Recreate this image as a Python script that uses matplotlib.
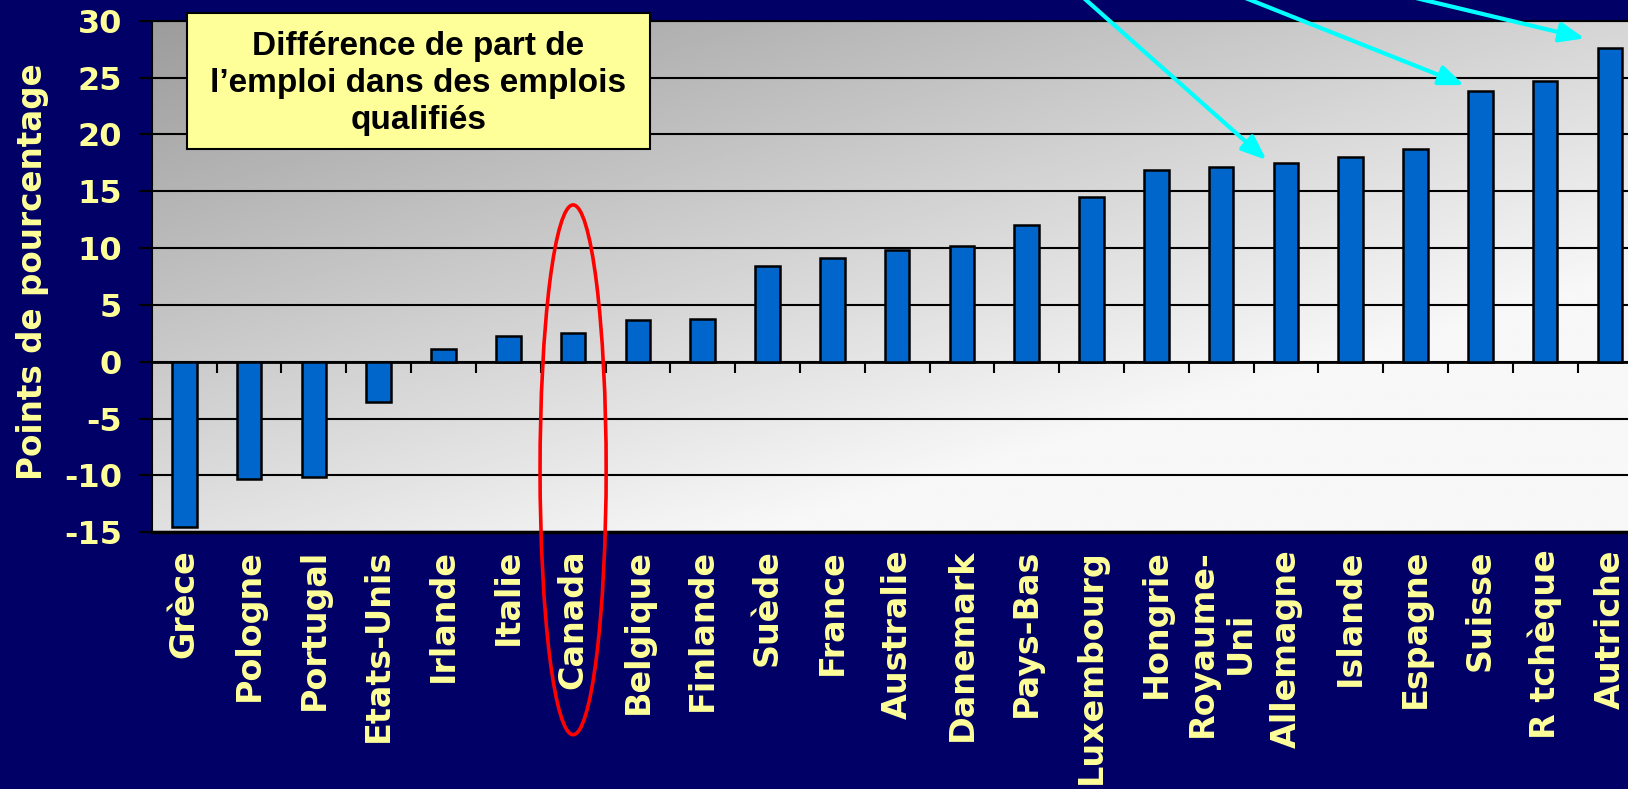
import numpy as np
import matplotlib
matplotlib.use('Agg')
from matplotlib import pyplot as plt
from matplotlib.patches import Ellipse, Rectangle

# data
pays = ['Grèce', 'Pologne', 'Portugal', 'Etats-Unis', 'Irlande', 'Italie',
        'Canada', 'Belgique', 'Finlande', 'Suède', 'France', 'Australie',
        'Danemark', 'Pays-Bas', 'Luxembourg', 'Hongrie', 'Royaume-\nUni',
        'Allemagne', 'Islande', 'Espagne', 'Suisse', 'R tchèque', 'Autriche']
ecart = [-14.5, -10.3, -10.1, -3.5, 1.1, 2.3, 2.5, 3.7, 3.8, 8.4, 9.1, 9.8,
         10.2, 12.0, 14.5, 16.9, 17.1, 17.5, 18.0, 18.7, 23.8, 24.7, 27.6]
yticks = list(range(-15, 31, 5))
titre = 'Différence de part de\nl\u2019emploi dans des emplois\nqualifiés'
pays_entoure = 'Canada'
pays_fleches = ['Allemagne', 'Suisse', 'Autriche']

NAVY = '#000066'
JAUNE = '#FFFF99'

plt.rcParams['axes.unicode_minus'] = False
plt.rcParams['font.family'] = ['DejaVu Sans']

fig = plt.figure(figsize=(16.28, 7.89), dpi=100, facecolor=NAVY)
ax = fig.add_axes([0.0933, 0.3253, 0.9155, 0.6484])

x = np.arange(len(pays))
ax.set_xlim(-0.5, len(pays) - 0.5)
ax.set_ylim(-15, 30)

# fond en degrade gris
u = np.linspace(0, 1, 300)
t = np.linspace(0, 1, 200)
U, T = np.meshgrid(u, t)
g = np.clip(156 + 58 * U + 68 * T, 0, 248) / 255.0
ax.imshow(g, cmap='gray', vmin=0, vmax=1, extent=[0, 1, 0, 1],
          transform=ax.transAxes, aspect='auto', zorder=0, origin='upper')

ax.bar(x, ecart, width=0.38, color='#0066CC', edgecolor='black',
       linewidth=1.8, zorder=2)

ax.set_axisbelow(True)
ax.yaxis.grid(True, color='black', linewidth=1.5)
ax.set_yticks(yticks)
ax.set_yticklabels([str(v) for v in yticks])
ax.tick_params(axis='y', direction='out', length=9.5, width=1.5,
               color='black', labelcolor=JAUNE, labelsize=23, pad=12)
for lbl in ax.get_yticklabels():
    lbl.set_fontweight('bold')

ax.set_xticks(x)
ax.set_xticklabels(pays, rotation=90, fontsize=24, fontweight='bold',
                   color=JAUNE)
for lbl in ax.get_xticklabels():
    lbl.set_multialignment('center')
ax.tick_params(axis='x', length=0, pad=12)

for s in ['left', 'top', 'bottom']:
    ax.spines[s].set_color('black')
    ax.spines[s].set_linewidth(1.5)
ax.spines['bottom'].set_linewidth(2.5)
ax.spines['right'].set_visible(False)

# axe des categories sur la ligne zero
sec = ax.secondary_xaxis(15 / 45)
sec.set_xticks(x[:-1] + 0.5)
sec.tick_params(direction='out', length=7.7, width=1.5, color='black',
                labelbottom=False)
sec.spines['bottom'].set_color('black')
sec.spines['bottom'].set_linewidth(2)

fig.text(32.5 / 1628, 1 - 272 / 789, 'Points de pourcentage', rotation=90,
         ha='center', va='center', color=JAUNE, fontsize=23.5,
         fontweight='bold')

# encadre jaune
fig.patches.append(Rectangle((0.1146, 0.8112), 0.2849, 0.1727,
                             transform=fig.transFigure, facecolor=JAUNE,
                             edgecolor='black', linewidth=1.5, zorder=5))
fig.text(0.2571, 0.894, titre, ha='center', va='center', fontsize=24,
         fontweight='bold', color='black', linespacing=1.25,
         family=['Liberation Sans', 'DejaVu Sans'], zorder=6)

# ellipse rouge
i = pays.index(pays_entoure)
ax.add_patch(Ellipse((i, -9.5), width=1.02, height=46.6, fill=False,
                     edgecolor='red', linewidth=2.6, clip_on=False, zorder=5))

# fleches cyan
departs = [(0.6394, 1.0507), (0.7064, 1.0507), (0.7721, 1.0507)]
decalages = [(-0.30, 0.25), (-0.25, 0.54), (-0.39, 0.85)]
for nom, dep, dec in zip(pays_fleches, departs, decalages):
    k = pays.index(nom)
    ax.annotate('', xy=(k + dec[0], ecart[k] + dec[1]), xycoords='data',
                xytext=dep, textcoords='figure fraction',
                arrowprops=dict(arrowstyle='-|>,head_length=0.75,head_width=0.3',
                                color='#00FFFF', lw=3, mutation_scale=20,
                                shrinkA=0, shrinkB=0),
                annotation_clip=False, zorder=6)

fig.savefig('out.png', dpi=100, facecolor=NAVY)
